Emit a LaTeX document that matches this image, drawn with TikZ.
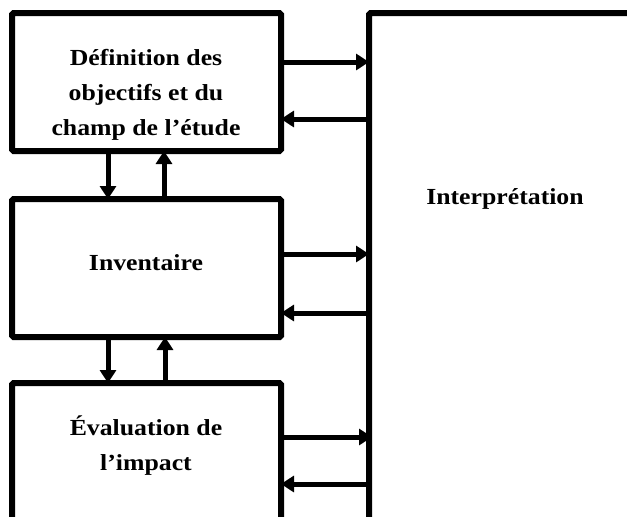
\documentclass[tikz,border=0pt]{standalone}
\usepackage{fontspec}
\setmainfont[FakeStretch=1.12]{Liberation Serif}
\usetikzlibrary{arrows.meta}
\begin{document}
\begin{tikzpicture}[x=1pt,y=-1pt,
  box/.style={draw,line width=6pt,rounded corners=1.5pt,inner sep=0pt,outer sep=0pt,anchor=north west},
  lbl/.style={font=\fontsize{23}{35}\selectfont\bfseries,align=center,inner sep=0pt},
  arr/.style={line width=5pt,-{Triangle[length=13pt,width=16pt]}}]
\useasboundingbox (0,0) rectangle (627,517);
\clip (0,0) rectangle (627,517);
\node[box,minimum width=269pt,minimum height=138pt] (b1) at (12,13) {};
\node[box,minimum width=269pt,minimum height=138pt] (b2) at (12,199) {};
\node[box,minimum width=269pt,minimum height=140pt] (b3) at (12,383) {};
\node[box,minimum width=330pt,minimum height=600pt] (interp) at (369,13) {};
\node[lbl] (t1) at (146,95) {Définition des\\objectifs et du\\champ de l’étude};
\node[lbl] (t2) at (146,263) {Inventaire};
\node[lbl] (t3) at (146,446) {Évaluation de\\l’impact};
\node[lbl] (t4) at (505,199) {Interprétation};
% vertical arrows
\draw[arr] (b1.south -| 108,0) -- (b2.north -| 108,0);
\draw[arr] (b2.north -| 164,0) -- (b1.south -| 164,0);
\draw[arr] (b2.south -| 108,0) -- (b3.north -| 108,0);
\draw[arr] (b3.north -| 165,0) -- (b2.south -| 165,0);
% horizontal arrows
\draw[arr] (b1.east |- 0,62) -- (interp.west |- 0,62);
\draw[arr] (interp.west |- 0,119) -- (b1.east |- 0,119);
\draw[arr] (b2.east |- 0,254) -- (interp.west |- 0,254);
\draw[arr] (interp.west |- 0,313) -- (b2.east |- 0,313);
\draw[arr] ([xshift=3pt]b3.east |- 0,437) -- ([xshift=3pt]interp.west |- 0,437);
\draw[arr] ([xshift=-2pt]interp.west |- 0,484) -- (b3.east |- 0,484);
\end{tikzpicture}
\end{document}
